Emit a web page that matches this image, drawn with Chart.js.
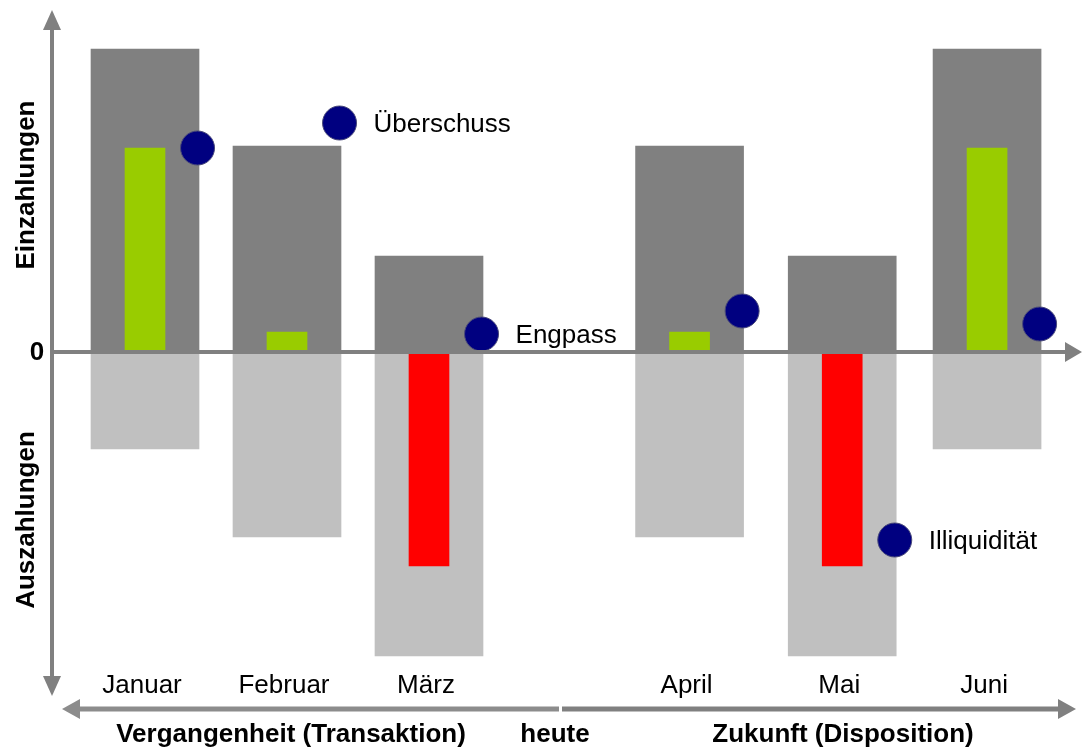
<!DOCTYPE html>
<html>
<head>
<meta charset="utf-8">
<script src="https://cdn.jsdelivr.net/npm/chart.js@4"></script>
<style>
    html, body { margin: 0; padding: 0; background: #fff; }
    #wrap { width: 1082px; height: 749px; }
</style>
</head>
<body>
<div id="wrap"><canvas id="liquiChart" width="1082" height="749"></canvas></div>
<script>
// ============================================
// Data
// ============================================
const monate = ['Januar', 'Februar', 'März', 'April', 'Mai', 'Juni'];
// Zeitachse: Lücke zwischen März und April ("heute")
const monatX = [1, 2, 3, 4.835, 5.91, 6.93];
const einzahlungen = [303, 206, 96, 206, 96, 303];
const auszahlungen = [-97, -185, -304, -185, -304, -97];
const saldo = [204, 20, -214, 20, -214, 204];
const bestand = [204, 229, 18, 41, -188, 28];
const hinweise = ['', 'Überschuss', 'Engpass', '', 'Illiquidität', ''];

const FONT = 'Arial, "Liberation Sans", sans-serif';
const GRAU = '#808080';

// ============================================
// Helpers
// ============================================
function arrowHead(ctx, tipX, tipY, dir, len, half) {
    ctx.beginPath();
    if (dir === 'up') {
        ctx.moveTo(tipX, tipY);
        ctx.lineTo(tipX - half, tipY + len);
        ctx.lineTo(tipX + half, tipY + len);
    } else if (dir === 'down') {
        ctx.moveTo(tipX, tipY);
        ctx.lineTo(tipX - half, tipY - len);
        ctx.lineTo(tipX + half, tipY - len);
    } else if (dir === 'right') {
        ctx.moveTo(tipX, tipY);
        ctx.lineTo(tipX - len, tipY - half);
        ctx.lineTo(tipX - len, tipY + half);
    } else {
        ctx.moveTo(tipX, tipY);
        ctx.lineTo(tipX + len, tipY - half);
        ctx.lineTo(tipX + len, tipY + half);
    }
    ctx.closePath();
    ctx.fill();
}

// axes, arrows and labels drawn around the bars
const decoPlugin = {
    id: 'deco',
    afterDatasetsDraw(chart) {
        const ctx = chart.ctx;
        const x = chart.scales.x;
        const y = chart.scales.y;
        const y0 = y.getPixelForValue(0);
        const axisX = 52;

        ctx.save();
        ctx.fillStyle = GRAU;
        ctx.strokeStyle = GRAU;

        // vertical axis, arrows both ends
        ctx.lineWidth = 4;
        ctx.beginPath();
        ctx.moveTo(axisX, 28);
        ctx.lineTo(axisX, 678);
        ctx.stroke();
        arrowHead(ctx, axisX, 10, 'up', 20, 9);
        arrowHead(ctx, axisX, 696, 'down', 20, 9);

        // horizontal zero line
        ctx.beginPath();
        ctx.moveTo(axisX - 2, y0);
        ctx.lineTo(1066, y0);
        ctx.stroke();
        arrowHead(ctx, 1082, y0, 'right', 17, 10);

        // time line at the bottom
        ctx.lineWidth = 5;
        ctx.strokeStyle = '#8c8c8c';
        ctx.beginPath();
        ctx.moveTo(76, 709);
        ctx.lineTo(559, 709);
        ctx.stroke();
        ctx.strokeStyle = GRAU;
        ctx.beginPath();
        ctx.moveTo(562, 709);
        ctx.lineTo(1062, 709);
        ctx.stroke();
        ctx.fillStyle = '#8c8c8c';
        arrowHead(ctx, 62, 709, 'left', 18, 10);
        ctx.fillStyle = GRAU;
        arrowHead(ctx, 1076, 709, 'right', 18, 10);

        // texts
        ctx.fillStyle = '#000';
        ctx.textBaseline = 'middle';
        ctx.font = 'bold 26px ' + FONT;
        ctx.textAlign = 'center';
        ctx.fillText('0', 37, y0 + 1);

        ctx.save();
        ctx.translate(27, 185);
        ctx.rotate(-Math.PI / 2);
        ctx.fillText('Einzahlungen', 0, 0);
        ctx.restore();
        ctx.save();
        ctx.translate(27, 520);
        ctx.rotate(-Math.PI / 2);
        ctx.fillText('Auszahlungen', 0, 0);
        ctx.restore();

        ctx.fillText('Vergangenheit (Transaktion)', 291, 735);
        ctx.fillText('heute', 555, 735);
        ctx.fillText('Zukunft (Disposition)', 843, 735);

        ctx.font = '26px ' + FONT;
        monate.forEach((m, i) => {
            ctx.fillText(m, x.getPixelForValue(monatX[i]) - 3, 686);
        });

        // notes next to the dots
        ctx.textAlign = 'left';
        const pts = chart.getDatasetMeta(3).data;
        hinweise.forEach((h, i) => {
            if (!h) return;
            ctx.fillText(h, pts[i].x + 34, pts[i].y + 2);
        });
        ctx.restore();
    }
};

// ============================================
// Chart
// ============================================
const punkte = bestand.map((v, i) => ({ x: monatX[i] + 0.37, y: v }));

new Chart(document.getElementById('liquiChart'), {
    type: 'bar',
    data: {
        datasets: [
            {
                label: 'Einzahlungen',
                data: einzahlungen.map((v, i) => ({ x: monatX[i], y: v })),
                backgroundColor: GRAU,
                barThickness: 108,
                grouped: false,
                order: 3
            },
            {
                label: 'Auszahlungen',
                data: auszahlungen.map((v, i) => ({ x: monatX[i], y: v })),
                backgroundColor: '#C0C0C0',
                barThickness: 108,
                grouped: false,
                order: 3
            },
            {
                label: 'Saldo',
                data: saldo.map((v, i) => ({ x: monatX[i], y: v })),
                backgroundColor: saldo.map(v => v >= 0 ? '#99CC00' : '#FF0000'),
                barThickness: 40,
                grouped: false,
                order: 2
            },
            {
                type: 'scatter',
                label: 'Bestand',
                data: punkte,
                backgroundColor: '#000080',
                borderColor: '#4a4a7a',
                borderWidth: 1,
                pointRadius: 17,
                pointHoverRadius: 17,
                clip: false,
                order: 1
            }
        ]
    },
    options: {
        responsive: false,
        animation: false,
        events: [],
        layout: { autoPadding: false, padding: { left: 3, right: 14, top: 12, bottom: 54 } },
        plugins: {
            legend: { display: false },
            tooltip: { enabled: false }
        },
        scales: {
            x: { type: 'linear', min: 0, max: 7.5, offset: false, display: false },
            y: { min: -343, max: 340, display: false }
        }
    },
    plugins: [decoPlugin]
});
</script>
</body>
</html>
